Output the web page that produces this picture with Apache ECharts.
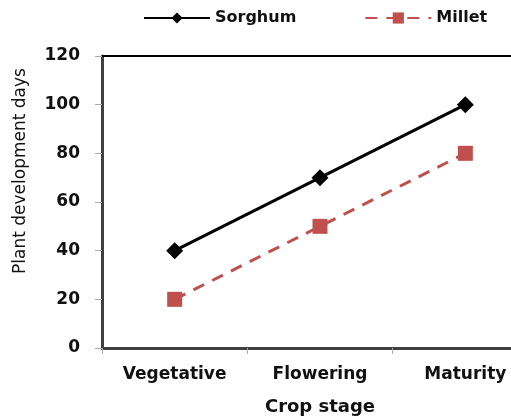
<!DOCTYPE html>
<html>
<head>
<meta charset="utf-8">
<script src="https://cdn.jsdelivr.net/npm/echarts@6/dist/echarts.min.js"></script>
<style>html,body{margin:0;padding:0;background:#fff}#c{width:511px;height:419px}</style>
</head>
<body>
<div id="c"></div>
<script>
const categories = ["Vegetative", "Flowering", "Maturity"];
const sorghum = [40, 70, 100];
const millet = [20, 50, 80];
const yTicks = {min: 0, max: 120, interval: 20};
const yTitle = 'Plant development days';

const F = 'DejaVu Sans';
const chart = echarts.init(document.getElementById('c'));
chart.setOption({
  animation: false,
  textStyle: {fontFamily: F},
  legend: {
    top: 5, left: 138,
    itemWidth: 66, itemHeight: 14, itemGap: 68,
    textStyle: {fontSize: 16, fontWeight: 'bold', color: '#111', fontFamily: F},
    data: ['Sorghum', 'Millet']
  },
  grid: {left: 102, top: 56, width: 436, height: 292, containLabel: false, outerBoundsMode: 'none'},
  xAxis: {
    type: 'category', data: categories, boundaryGap: true,
    name: 'Crop stage', nameLocation: 'middle', nameGap: 50,
    nameTextStyle: {fontSize: 18, fontWeight: 'bold', color: '#111', fontFamily: F},
    axisLine: {lineStyle: {color: '#404040', width: 3}},
    axisTick: {show: true, length: 6, lineStyle: {color: '#aaa', width: 1}},
    axisLabel: {fontSize: 17, fontWeight: 'bold', color: '#111', margin: 18, fontFamily: F}
  },
  yAxis: {
    type: 'value', min: yTicks.min, max: yTicks.max, interval: yTicks.interval,
    axisLine: {show: true, lineStyle: {color: '#404040', width: 3}},
    axisTick: {show: true, length: 7, lineStyle: {color: '#aaa', width: 1}},
    splitLine: {show: false},
    axisLabel: {fontSize: 17, fontWeight: 'bold', color: '#111', margin: 22, fontFamily: F}
  },
  graphic: [{
    type: 'text', x: 12, y: 171, rotation: Math.PI / 2,
    style: {text: yTitle, font: '17px "DejaVu Sans"', fill: '#111', align: 'center', verticalAlign: 'top'}
  }],
  series: [
    {
      name: 'Sorghum', type: 'line', data: sorghum,
      symbol: 'diamond', symbolSize: 17,
      lineStyle: {color: '#000', width: 3},
      itemStyle: {color: '#000'}
    },
    {
      name: 'Millet', type: 'line', data: millet,
      symbol: 'rect', symbolSize: 15,
      lineStyle: {color: '#C0504D', width: 3, type: [12, 9]},
      itemStyle: {color: '#C0504D'}
    },
    {
      type: 'line', data: [],
      markLine: {
        silent: true, symbol: 'none',
        lineStyle: {color: '#000', width: 2, type: 'solid'},
        label: {show: false},
        data: [{yAxis: 120}]
      }
    }
  ]
});
</script>
</body>
</html>
